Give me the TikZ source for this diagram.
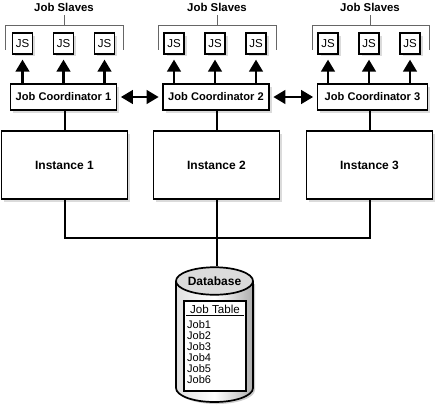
\documentclass[tikz,border=0pt]{standalone}
\usepackage{fontspec}
\setmainfont{Liberation Sans}
\usetikzlibrary{arrows.meta,shapes.geometric,calc,shadows}
\tikzset{
  x=1pt,y=-1pt,
  softshadow/.style={drop shadow={shadow xshift=2.5pt,shadow yshift=-2.5pt,fill=black!14,opacity=1}},
  jsbox/.style={draw=black,line width=1.7pt,fill=white,softshadow,minimum width=20pt,minimum height=20.5pt,inner sep=0pt,font=\fontsize{11.5}{13}\selectfont},
  coord/.style={draw=black,line width=1.7pt,fill=white,softshadow,minimum height=26pt,inner sep=0pt,font=\bfseries\fontsize{11.1}{13}\selectfont},
  inst/.style={draw=black,line width=1.7pt,fill=white,softshadow,minimum width=126pt,minimum height=68pt,inner sep=0pt,font=\bfseries\fontsize{12}{14}\selectfont},
  slavelabel/.style={inner sep=0pt,font=\bfseries\fontsize{11.4}{13}\selectfont},
  bracketline/.style={draw=black!60,line width=0.8pt},
  conn/.style={draw=black,line width=2pt},
  arrowup/.style={draw=black,line width=2.7pt,-{Triangle[width=13.5pt,length=12pt]},shorten >=5pt},
  arrowboth/.style={draw=black,line width=2.7pt,{Triangle[width=13.5pt,length=12pt]}-{Triangle[width=13.5pt,length=12pt]},shorten >=3.5pt,shorten <=3.5pt},
  jobtext/.style={anchor=west,inner sep=0pt,font=\fontsize{11}{12}\selectfont},
}
\begin{document}
\begin{tikzpicture}
\useasboundingbox (0,0) rectangle (435,405);
\fill[white] (0,0) rectangle (435,405);
% slave labels
\node[slavelabel] (l1) at (64,7) {Job Slaves};
\node[slavelabel] (l2) at (217,7) {Job Slaves};
\node[slavelabel] (l3) at (370,7) {Job Slaves};
% brackets
\coordinate (b1) at (64,25);
\coordinate (b2) at (217,25);
\coordinate (b3) at (370,25);
\draw[bracketline] (5.5,49.5) -- (5.5,25.5) -- (123,25.5) -- (123,49.5);
\draw[bracketline] (158,49.5) -- (158,25.5) -- (276,25.5) -- (276,49.5);
\draw[bracketline] (312,49.5) -- (312,25.5) -- (429,25.5) -- (429,49.5);
\draw[bracketline] (l1.south |- 0,15) -- (b1);
\draw[bracketline] (l2.south |- 0,15) -- (b2);
\draw[bracketline] (l3.south |- 0,15) -- (b3);
% JS boxes
\node[jsbox] (j11) at (22.5,43.5) {JS};
\node[jsbox] (j12) at (63.5,43.5) {JS};
\node[jsbox] (j13) at (104.5,43.5) {JS};
\node[jsbox] (j21) at (174,43.5) {JS};
\node[jsbox] (j22) at (215,43.5) {JS};
\node[jsbox] (j23) at (256,43.5) {JS};
\node[jsbox] (j31) at (328,43.5) {JS};
\node[jsbox] (j32) at (369,43.5) {JS};
\node[jsbox] (j33) at (410,43.5) {JS};
% coordinators
\node[coord,minimum width=106pt] (c1) at (63.5,97) {Job Coordinator 1};
\node[coord,minimum width=106pt] (c2) at (216,97) {Job Coordinator 2};
\node[coord,minimum width=110pt] (c3) at (372.5,97) {Job Coordinator 3};
% instances
\node[inst] (i1) at (64.5,165) {Instance 1};
\node[inst] (i2) at (216.5,165) {Instance 2};
\node[inst] (i3) at (369.5,165) {Instance 3};
% arrows
\foreach \j/\c in {j11/c1,j12/c1,j13/c1,j21/c2,j22/c2,j23/c2,j31/c3,j32/c3,j33/c3}
  \draw[arrowup] (\j.south |- \c.north) -- (\j.south);
\draw[arrowboth] (c1.east) -- (c2.west);
\draw[arrowboth] (c2.east) -- (c3.west);
% stems
\draw[conn] (i1.north) -- (i1.north |- c1.south);
\draw[conn] (i2.north) -- (i2.north |- c2.south);
\draw[conn] (i3.north) -- (i3.north |- c3.south);
% database
\fill[black!20] (178,284) -- (178,390) arc[start angle=180,end angle=360,x radius=38.5pt,y radius=14pt] -- (255,284) -- cycle;
\path[left color=black!12,right color=black!32,middle color=white] (176,281) -- (176,388) arc[start angle=180,end angle=360,x radius=38.5pt,y radius=14pt] -- (253,281) -- cycle;
\draw[draw=black,line width=1.7pt] (176,281) -- (176,388) arc[start angle=180,end angle=360,x radius=38.5pt,y radius=14pt] -- (253,281);
\node[ellipse,draw=black,line width=1.7pt,fill=black!14,minimum width=77pt,minimum height=27.5pt,inner sep=0pt,font=\bfseries\fontsize{12}{14}\selectfont] (db) at (214.5,281) {Database};
% buses
\coordinate (bus) at (i2.south |- 0,238);
\draw[conn] (i1.south) -- (i1.south |- bus) -- (i3.south |- bus) -- (i3.south);
\draw[conn] (i2.south) -- (i2.south |- db.north);
% table
\node[draw=black,line width=1.7pt,fill=white,minimum width=62pt,minimum height=90pt,inner sep=0pt] (tb) at (215,346) {};
\node[inner sep=0pt,font=\fontsize{11.6}{13}\selectfont] (jt) at (215,309) {Job Table};
\draw[draw=black,line width=1pt] ($(tb.north west)+(3,15)$) -- ($(tb.north east)+(-3,15)$);
\node[jobtext] (a1) at (187,325) {Job1};
\node[jobtext] (a2) at (187,336) {Job2};
\node[jobtext] (a3) at (187,347) {Job3};
\node[jobtext] (a4) at (187,358) {Job4};
\node[jobtext] (a5) at (187,369) {Job5};
\node[jobtext] (a6) at (187,380) {Job6};
\end{tikzpicture}
\end{document}
